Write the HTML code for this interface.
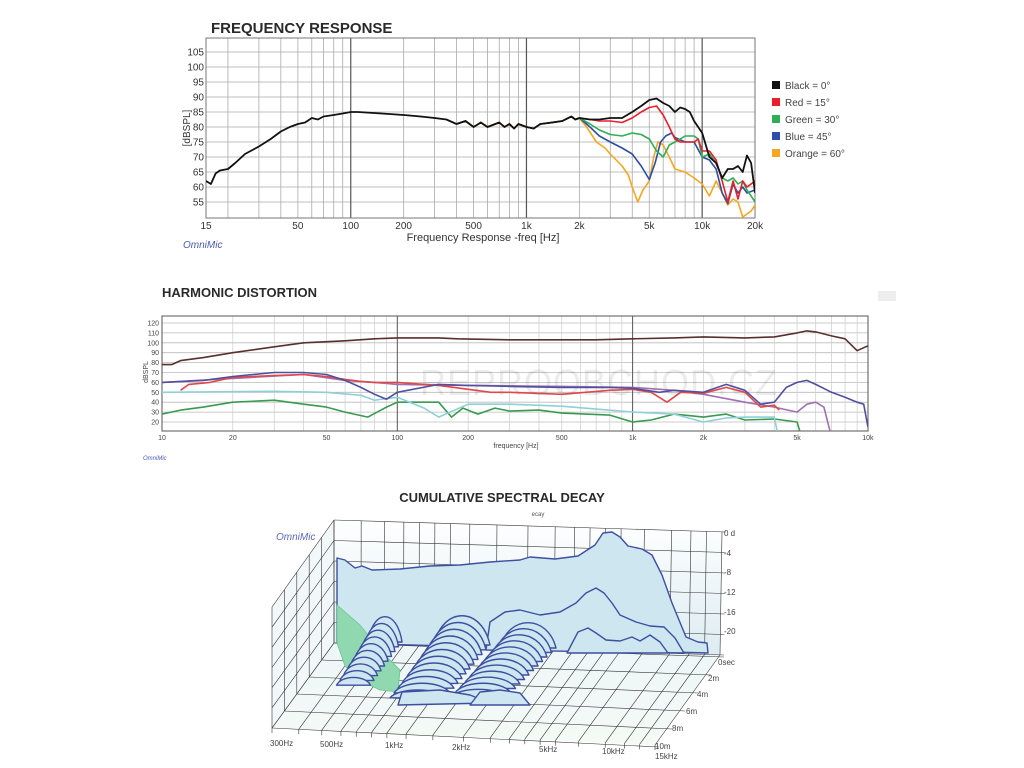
<!DOCTYPE html>
<html><head><meta charset="utf-8"><style>
html,body{margin:0;padding:0;background:#fff;width:1024px;height:768px;overflow:hidden}
svg{display:block;font-family:"Liberation Sans",sans-serif}
</style></head><body>
<svg id="s" width="1024" height="768" viewBox="0 0 1024 768" xmlns="http://www.w3.org/2000/svg">
<defs>
<clipPath id="c1"><rect x="206" y="38" width="549" height="180"/></clipPath>
<clipPath id="c2"><rect x="162" y="316" width="706" height="115"/></clipPath>
<linearGradient id="bg3" x1="0" y1="0" x2="0" y2="1"><stop offset="0" stop-color="#ffffff"/><stop offset="1" stop-color="#dcecf2"/></linearGradient>
<linearGradient id="fl3" x1="0" y1="0" x2="0" y2="1"><stop offset="0" stop-color="#eef6f8"/><stop offset="1" stop-color="#f4faf6"/></linearGradient>
</defs>
<text x="211" y="33" font-size="15" font-weight="bold" fill="#2a2a2a">FREQUENCY RESPONSE</text>
<g id="g1grid"></g>
<rect x="206" y="38" width="549" height="180" fill="none" stroke="#777" stroke-width="1"/>
<g id="g1lab" font-size="10" fill="#333"></g>
<text x="190" y="128" font-size="10" fill="#333" transform="rotate(-90 190 128)" text-anchor="middle">[dBSPL]</text>
<text x="483" y="241" font-size="11" fill="#333" text-anchor="middle">Frequency Response -freq [Hz]</text>
<text x="183" y="248" font-size="10" font-style="italic" fill="#4a5ab0">OmniMic</text>
<g id="g1c" clip-path="url(#c1)" fill="none" stroke-width="1.6" stroke-linejoin="round"></g>
<g font-size="10" fill="#444">
<rect x="772" y="81" width="8" height="8" fill="#111"/><text x="785" y="89">Black = 0°</text>
<rect x="772" y="98" width="8" height="8" fill="#e8202a"/><text x="785" y="106">Red = 15°</text>
<rect x="772" y="115" width="8" height="8" fill="#2fae55"/><text x="785" y="123">Green = 30°</text>
<rect x="772" y="132" width="8" height="8" fill="#2d4ea6"/><text x="785" y="140">Blue = 45°</text>
<rect x="772" y="149" width="8" height="8" fill="#f5a623"/><text x="785" y="157">Orange = 60°</text>
</g>
<text x="162" y="297" font-size="13" font-weight="bold" fill="#2a2a2a">HARMONIC DISTORTION</text>
<rect x="878" y="291" width="18" height="10" fill="#eee"/>
<g id="g2grid"></g>
<text x="420" y="395" font-size="36" fill="#000" opacity="0.07" letter-spacing="1">REPROOBCHOD.CZ</text>
<rect x="162" y="316" width="706" height="115" fill="none" stroke="#555" stroke-width="1"/>
<g id="g2lab" font-size="7" fill="#444"></g>
<text x="148" y="372" font-size="7" fill="#444" transform="rotate(-90 148 372)" text-anchor="middle">dBSPL</text>
<text x="516" y="448" font-size="7" fill="#444" text-anchor="middle">frequency [Hz]</text>
<text x="143" y="460" font-size="6" font-style="italic" fill="#4a5ab0">OmniMic</text>
<g id="g2c" clip-path="url(#c2)" fill="none" stroke-width="1.2" stroke-linejoin="round"></g>
<text x="502" y="502" font-size="13" font-weight="bold" fill="#2a2a2a" text-anchor="middle">CUMULATIVE SPECTRAL DECAY</text>
<text x="538" y="516" font-size="6" fill="#555" text-anchor="middle">ecay</text>
<polygon points="334,520 722,532 720,655 334,643" fill="url(#bg3)"/>
<polygon points="334,520 334,643 272,728 272,607" fill="#f2f8fa"/>
<polygon points="334,643 720,655 655,745 272,728" fill="url(#fl3)"/>
<g id="g3grid" stroke="#333" stroke-width="0.6" fill="none"></g>
<text x="276" y="540" font-size="10" font-style="italic" fill="#5a6ab8">OmniMic</text>
<g id="g3" stroke="#3d4fa0" stroke-width="1.4" fill="#cde6ef" stroke-linejoin="round"></g>
<g font-size="8" fill="#444">
<text x="724" y="536">0 d</text><text x="724" y="556">-4</text><text x="724" y="575">-8</text><text x="724" y="595">-12</text><text x="724" y="615">-16</text><text x="724" y="634">-20</text>
<text x="718" y="665">0sec</text><text x="708" y="681">2m</text><text x="697" y="697">4m</text><text x="686" y="714">6m</text><text x="672" y="731">8m</text><text x="655" y="749">10m</text><text x="655" y="759">15kHz</text>
<text x="270" y="746">300Hz</text><text x="320" y="747">500Hz</text><text x="385" y="748">1kHz</text><text x="452" y="750">2kHz</text><text x="539" y="752">5kHz</text><text x="602" y="754">10kHz</text>
</g>
</svg>
<script>
var NS="http://www.w3.org/2000/svg";
function el(p,t,a){var e=document.createElementNS(NS,t);for(var k in a)e.setAttribute(k,a[k]);p.appendChild(e);return e;}
function $(i){return document.getElementById(i);}
var X1=function(f){return 206+175.7*Math.log10(f/15);}, Y1=function(d){return 52+(105-d)*3;};
var g=$("g1grid");
for(var d=55;d<=105;d+=5)el(g,"line",{x1:206,x2:755,y1:Y1(d),y2:Y1(d),stroke:"#aaa","stroke-width":0.8});
[20,30,40,50,60,70,80,90,100,200,300,400,500,600,700,800,900,1000,2000,3000,4000,5000,6000,7000,8000,9000,10000,20000].forEach(function(f){
 var b=(f==100||f==1000||f==10000);el(g,"line",{x1:X1(f),x2:X1(f),y1:38,y2:218,stroke:b?"#555":"#aaa","stroke-width":b?1.2:0.8});});
g=$("g1lab");
for(d=55;d<=105;d+=5){var t=el(g,"text",{x:204,y:Y1(d)+3.5,"text-anchor":"end"});t.textContent=d;}
[[15,"15"],[50,"50"],[100,"100"],[200,"200"],[500,"500"],[1000,"1k"],[2000,"2k"],[5000,"5k"],[10000,"10k"],[20000,"20k"]].forEach(function(a){var t=el(g,"text",{x:X1(a[0]),y:229,"text-anchor":"middle"});t.textContent=a[1];});
function path(g,data,X,Y,col,w){var s="";data.forEach(function(p,i){s+=(i?"L":"M")+X(p[0]).toFixed(1)+" "+Y(p[1]).toFixed(1);});el(g,"path",{d:s,stroke:col,"stroke-width":w||1.6});}
var base=[[400,81],[450,82],[500,80],[550,81.5],[600,80],[700,81.5],[750,80],[800,81],[850,79.5],[900,81],[1000,80],[1100,79.5],[1200,81],[1400,81.5],[1600,82],[1800,83.5],[1900,82.5],[2000,83]];
var G=$("g1c");
path(G,base.concat([[2200,80],[2500,75],[2800,73],[3000,71],[3500,67],[3800,64],[4000,60],[4300,55],[4600,59],[5000,62],[5300,70],[5600,75],[6000,74],[6500,70],[7000,66],[8000,65],[9000,63],[10000,61],[11000,57],[12000,62],[13000,58],[14000,54],[15000,56],[16000,55],[17000,50],[19000,52],[20000,54]]),X1,Y1,"#f5a623");
path(G,base.concat([[2300,80],[2600,77],[3000,75],[3500,73],[4000,71],[4500,67],[5000,62.5],[5400,68],[5800,75],[6200,77],[6700,78],[7000,76.5],[8000,75],[9000,75],[10000,70],[11000,69],[12000,66],[13000,58],[14000,54.5],[15000,61],[16000,58],[17000,60],[18000,58],[20000,59]]),X1,Y1,"#2d4ea6");
path(G,base.concat([[2300,81],[2600,79],[3000,77.5],[3500,77],[4000,78],[4500,77.5],[5000,76],[5500,72],[6000,70],[6500,74],[7000,75],[7500,76],[8000,77],[9000,77],[9500,76],[10000,70],[11000,71],[12000,68],[13000,63],[14000,62],[15000,63],[16000,61],[17000,62],[18000,59],[20000,55]]),X1,Y1,"#2fae55");
path(G,base.concat([[2300,82.5],[2600,82],[3000,82],[3500,81.5],[4000,83],[4500,85],[5000,86.5],[5500,87],[6000,84],[6500,80],[7000,76],[7500,75],[8000,75],[9000,75],[9500,76],[10000,72],[11000,72],[12000,69],[13000,62],[14000,55],[15000,62],[16000,56],[17000,62],[18000,60],[20000,62]]),X1,Y1,"#e8202a");
path(G,[[15,62],[16,61],[17,64.5],[18,65.5],[20,66],[22,68],[25,71],[30,73.5],[35,76],[40,78.5],[45,80],[50,81],[55,81.5],[60,83],[65,82.5],[70,83.5],[80,84],[90,84.5],[100,85],[110,85],[150,84.5],[200,84],[250,83.5],[300,83],[350,82.5]].concat(base).concat([[2300,82.5],[2600,82.5],[3000,83],[3500,83],[4000,85],[4500,87],[5000,89],[5500,89.5],[6000,88],[6500,87],[7000,85],[7500,86.5],[8000,86],[8500,85],[9000,82],[10000,78],[11000,70],[12000,68],[13000,63],[14000,66],[15000,66],[16000,67],[17000,65],[18000,70.5],[19000,68],[20000,58]]),X1,Y1,"#111",1.8);
var X2=function(f){return 162+235.3*Math.log10(f/10);}, Y2=function(d){return 323+(120-d)*0.99;};
g=$("g2grid");
for(d=20;d<=120;d+=10)el(g,"line",{x1:162,x2:868,y1:Y2(d),y2:Y2(d),stroke:"#bbb","stroke-width":0.8});
for(var dec=10;dec<10000;dec*=10)for(var m=1;m<10;m++){var f=dec*m;var b=(m==1&&dec>10);el(g,"line",{x1:X2(f),x2:X2(f),y1:316,y2:431,stroke:b?"#555":"#ccc","stroke-width":b?1:0.7});}
g=$("g2lab");
for(d=20;d<=120;d+=10){var t=el(g,"text",{x:159,y:Y2(d)+2.5,"text-anchor":"end"});t.textContent=d;}
[[10,"10"],[20,"20"],[50,"50"],[100,"100"],[200,"200"],[500,"500"],[1000,"1k"],[2000,"2k"],[5000,"5k"],[10000,"10k"]].forEach(function(a){var t=el(g,"text",{x:X2(a[0]),y:440,"text-anchor":"middle"});t.textContent=a[1];});
G=$("g2c");
path(G,[[10,28],[12,32],[15,35],[20,40],[30,42],[40,38],[50,35],[60,30],[75,25],[90,35],[100,40],[150,40],[170,25],[190,34],[220,28],[260,34],[300,31],[400,32],[500,29],[800,27],[1000,20],[1200,22],[1500,28],[2000,25],[2500,28],[3000,22],[4000,23],[5000,20],[5300,0]],X2,Y2,"#3a9a50");
path(G,[[10,50],[30,51],[50,50],[70,47],[80,42],[100,45],[130,34],[150,25],[200,38],[300,38],[500,36],[700,33],[1000,30],[1500,28],[2000,20],[2500,24],[3000,25],[4000,25],[4200,0]],X2,Y2,"#8fd0d8");
path(G,[[10,60],[20,64],[40,68],[60,62],[80,60],[100,58],[200,57],[500,56],[1000,55],[1500,52],[2000,48],[3000,40],[4000,35],[5000,30],[5500,38],[6000,40],[6500,35],[7000,5]],X2,Y2,"#a070b0");
path(G,[[12,52],[13,58],[16,60],[20,65],[30,67],[40,68],[50,66],[60,63],[70,61],[80,60],[100,60],[150,57],[200,53],[250,50],[300,50],[500,48],[800,52],[1000,53],[1200,50],[1400,40],[1600,50],[2000,49],[2500,55],[3000,50],[3500,35],[4000,37],[4200,32]],X2,Y2,"#e04848");
path(G,[[10,60],[15,62],[20,66],[30,70],[40,70],[50,68],[60,62],[70,55],[80,48],[90,43],[100,50],[150,58],[200,57],[300,56],[500,55],[800,55],[1000,54],[1300,50],[1500,52],[2000,50],[2500,58],[3000,52],[3500,38],[4000,40],[4500,55],[5000,60],[5500,62],[6000,58],[7000,50],[8000,45],[9000,40],[9600,38],[10000,15]],X2,Y2,"#5050a0");
path(G,[[10,78],[11,78],[12,82],[15,85],[20,90],[30,96],[40,100],[60,102],[80,104],[100,105],[150,105],[180,104],[300,103],[500,103],[700,103],[1000,104],[1500,105],[2000,106],[3000,105],[4000,106],[5000,110],[5500,112],[6000,111],[7000,107],[8000,104],[9000,92],[10000,97]],X2,Y2,"#5a2f2f",1.6);
g=$("g3grid");
function lerp(a,b,t){return [a[0]+(b[0]-a[0])*t,a[1]+(b[1]-a[1])*t];}
var BL=[334,643],BR=[720,655],FL=[272,728],FR=[655,745],TL=[334,520],TR=[722,532];
var fx=[0,0.07,0.13,0.18,0.22,0.26,0.3,0.35,0.42,0.5,0.57,0.62,0.66,0.7,0.74,0.8,0.87,0.92,0.96,1];
fx.forEach(function(t){var b=lerp(BL,BR,t),f=lerp(FL,FR,t),tp=lerp(TL,TR,t);
 el(g,"line",{x1:b[0],y1:b[1],x2:f[0],y2:f[1]});el(g,"line",{x1:b[0],y1:b[1],x2:tp[0],y2:tp[1]});
 el(g,"line",{x1:f[0],y1:f[1],x2:f[0],y2:f[1]+5});});
for(var i=0;i<=5;i++){var t=i/5;var a=lerp(BL,FL,t),b=lerp(BR,FR,t);el(g,"line",{x1:a[0],y1:a[1],x2:b[0]+4,y2:b[1]+2});}
for(i=0;i<=6;i++){var t=i/6;var a=lerp(TL,BL,t),b=lerp(TR,BR,t);el(g,"line",{x1:a[0],y1:a[1],x2:b[0]+4,y2:b[1]});
 var c=[272,607+(728-607)*t];el(g,"line",{x1:a[0],y1:a[1],x2:c[0],y2:c[1]});}
for(i=0;i<6;i++){var t=i/5;var x=334-62*t;el(g,"line",{x1:x,y1:520+87*t,x2:x,y2:643+85*t});}
var S=$("g3");
el(S,"path",{d:"M337,558 L345,560 L355,568 L362,566 L372,570 L400,569 L430,566 L460,565 L490,562 L520,560 L530,557 L555,559 L578,556 L595,545 L603,533 L612,532 L620,537 L628,546 L642,549 L652,555 L662,575 L672,603 L686,637 L698,642 L707,643 L708,653 L337,643 Z"});
el(S,"path",{d:"M486,650 L490,622 L505,612 L520,610 L540,615 L560,612 L576,603 L586,593 L596,588 L604,593 L612,603 L620,615 L636,622 L650,626 L664,627 L675,638 L684,653 Z"});
el(S,"path",{d:"M567,653 L578,632 L588,628 L596,633 L606,640 L620,641 L632,637 L640,641 L650,635 L660,642 L668,653 Z"});
el(S,"path",{d:"M337,605 L337,643 L345,666 L360,680 L380,690 L398,692 L400,670 L380,650 L360,625 Z",fill:"#8fd8b0",stroke:"#6cc48f","stroke-width":0.8});
function bump(cx,by,w,h){return "M"+(cx-w/2)+","+by+" C"+(cx-w*0.35)+","+(by-h*1.3)+" "+(cx+w*0.35)+","+(by-h*1.3)+" "+(cx+w/2)+","+by+" Z";}
function cluster(cx,by,w,h,n,dx,dy,hd){for(var k=0;k<n;k++){el(S,"path",{d:bump(cx+k*dx,by+k*dy,w,Math.max(3,h-k*hd))});}}
cluster(385,642,34,26,10,-3.5,4.8,2);
cluster(462,645,56,30,12,-4,4.8,2);
cluster(528,648,56,26,12,-4.5,4.5,1.6);
el(S,"path",{d:"M398,705 L402,692 L440,690 L470,695 L490,703 Z"});
el(S,"path",{d:"M470,705 L480,692 L500,690 L520,693 L530,705 Z"});
</script>
</body></html>
